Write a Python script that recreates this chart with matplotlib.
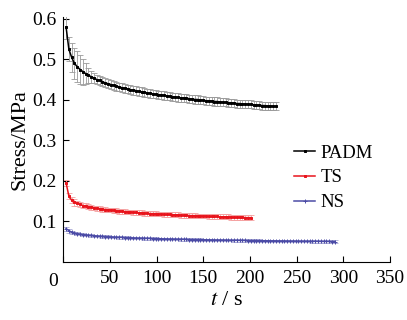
import numpy as np
import matplotlib
matplotlib.use("Agg")
import matplotlib.pyplot as plt
from matplotlib.transforms import ScaledTranslation

plt.rcParams['font.family'] = ['Liberation Serif', 'DejaVu Serif']
plt.rcParams['mathtext.fontset'] = 'stix'

# ---------------- data ----------------
padm_t = list(range(3, 231, 3))
padm_v = [0.580, 0.525, 0.505, 0.490, 0.482, 0.475, 0.470, 0.465, 0.461, 0.457,
          0.454, 0.450, 0.448, 0.445, 0.442, 0.440, 0.438, 0.436, 0.434, 0.432,
          0.430, 0.429, 0.427, 0.425, 0.424, 0.423, 0.421, 0.420, 0.419, 0.417,
          0.416, 0.415, 0.414, 0.413, 0.412, 0.411, 0.410, 0.409, 0.408, 0.407,
          0.406, 0.405, 0.405, 0.404, 0.403, 0.402, 0.401, 0.401, 0.400, 0.399,
          0.398, 0.398, 0.397, 0.396, 0.396, 0.395, 0.394, 0.394, 0.393, 0.393,
          0.392, 0.391, 0.391, 0.390, 0.390, 0.389, 0.389, 0.388, 0.387, 0.387,
          0.386, 0.386, 0.385, 0.385, 0.384, 0.384]
padm_e = [0.030, 0.030, 0.035, 0.038, 0.038, 0.036, 0.032, 0.025, 0.018, 0.014,
          0.012] + [0.011] * 20 + [0.010] * 45

ts_t = list(range(3, 202, 3))
ts_v = [0.195, 0.162, 0.152, 0.147, 0.144, 0.142, 0.139, 0.138, 0.136, 0.135,
        0.133, 0.132, 0.131, 0.130, 0.129, 0.128, 0.128, 0.127, 0.126, 0.125,
        0.125, 0.124, 0.123, 0.123, 0.122, 0.122, 0.121, 0.121, 0.120, 0.120,
        0.119, 0.119, 0.119, 0.118, 0.118, 0.117, 0.117, 0.117, 0.116, 0.116,
        0.116, 0.115, 0.115, 0.115, 0.114, 0.114, 0.114, 0.113, 0.113, 0.113,
        0.113, 0.112, 0.112, 0.112, 0.112, 0.111, 0.111, 0.111, 0.111, 0.110,
        0.110, 0.110, 0.110, 0.110, 0.109, 0.109, 0.109]
ts_e = [0.008, 0.008, 0.008, 0.008] + [0.006] * 63

ns_t = list(range(3, 292, 3))
ns_v = [0.082, 0.077, 0.073, 0.0710, 0.0695, 0.0683, 0.0673, 0.0664, 0.0656, 0.0650,
        0.0643, 0.0637, 0.0632, 0.0627, 0.0623, 0.0619, 0.0615, 0.0611, 0.0607, 0.0604,
        0.0601, 0.0597, 0.0595, 0.0592, 0.0589, 0.0586, 0.0584, 0.0582, 0.0579, 0.0577,
        0.0575, 0.0573, 0.0571, 0.0569, 0.0567, 0.0565, 0.0563, 0.0561, 0.0560, 0.0558,
        0.0556, 0.0555, 0.0553, 0.0552, 0.0550, 0.0549, 0.0547, 0.0546, 0.0545, 0.0543,
        0.0542, 0.0541, 0.0539, 0.0538, 0.0537, 0.0536, 0.0535, 0.0534, 0.0532, 0.0531,
        0.0530, 0.0529, 0.0528, 0.0527, 0.0526, 0.0525, 0.0524, 0.0523, 0.0522, 0.0521,
        0.0520, 0.0519, 0.0518, 0.0517, 0.0517, 0.0516, 0.0515, 0.0514, 0.0513, 0.0512,
        0.0511, 0.0511, 0.0510, 0.0509, 0.0508, 0.0508, 0.0507, 0.0506, 0.0505, 0.0505,
        0.0504, 0.0503, 0.0502, 0.0502, 0.0501, 0.0500, 0.0500]
ns_e = [0.005, 0.005, 0.004] + [0.003] * 94

xticks = [0, 50, 100, 150, 200, 250, 300, 350]
yticks = [0.1, 0.2, 0.3, 0.4, 0.5, 0.6]

# ---------------- plot ----------------
fig = plt.figure(figsize=(4.07, 3.2), dpi=100)
ax = fig.add_axes([0.1555, 0.182, 0.8025, 0.765])

series = [
    (padm_t, padm_v, padm_e, 'black', '#9a9a9a', 's', 1.8, 'PADM'),
    (ts_t, ts_v, ts_e, '#e8141c', '#f4a0a0', 's', 1.5, 'TS'),
    (ns_t, ns_v, ns_e, '#4b4ba6', '#a8a8d4', '+', 3.0, 'NS'),
]
handles = []
for t, v, e, c, ec, m, ms, lab in series:
    ax.errorbar(t, v, yerr=e, fmt='none', ecolor=ec, elinewidth=0.6,
                capsize=2.0, capthick=0.6, zorder=2)
    h, = ax.plot(t, v, color=c, lw=1.1, marker=m, ms=ms, mew=0.7,
                 label=lab, zorder=3)
    handles.append(h)

ax.set_xlim(0, 350)
ax.set_ylim(0, 0.605)
ax.set_xticks(xticks)
ax.set_xticklabels([''] + [str(x) for x in xticks[1:]])
ax.set_yticks(yticks)
ax.set_yticklabels([f'{y:.1f}' for y in yticks])
ax.tick_params(direction='in', length=4, width=0.8, labelsize=14, pad=6)
ax.tick_params(axis='y', pad=5)
for s in ['top', 'right']:
    ax.spines[s].set_visible(False)
for s in ['left', 'bottom']:
    ax.spines[s].set_linewidth(0.8)

# origin label "0"
ax.text(0, 0, '0', fontsize=14, ha='center', va='top',
        transform=ax.transData + ScaledTranslation(-10/100, -11/100, fig.dpi_scale_trans))

ax.set_xlabel(r'$t$ / s', fontsize=16, labelpad=3)
ax.set_ylabel('Stress/MPa', fontsize=16, labelpad=2)

fig.legend(handles=handles, loc='center left', bbox_to_anchor=(0.700, 0.444),
           bbox_transform=fig.transFigure, frameon=False, fontsize=13.5,
           handlelength=1.1, handletextpad=0.3, labelspacing=0.4,
           borderpad=0.0)

fig.savefig('out.png', dpi=100)
